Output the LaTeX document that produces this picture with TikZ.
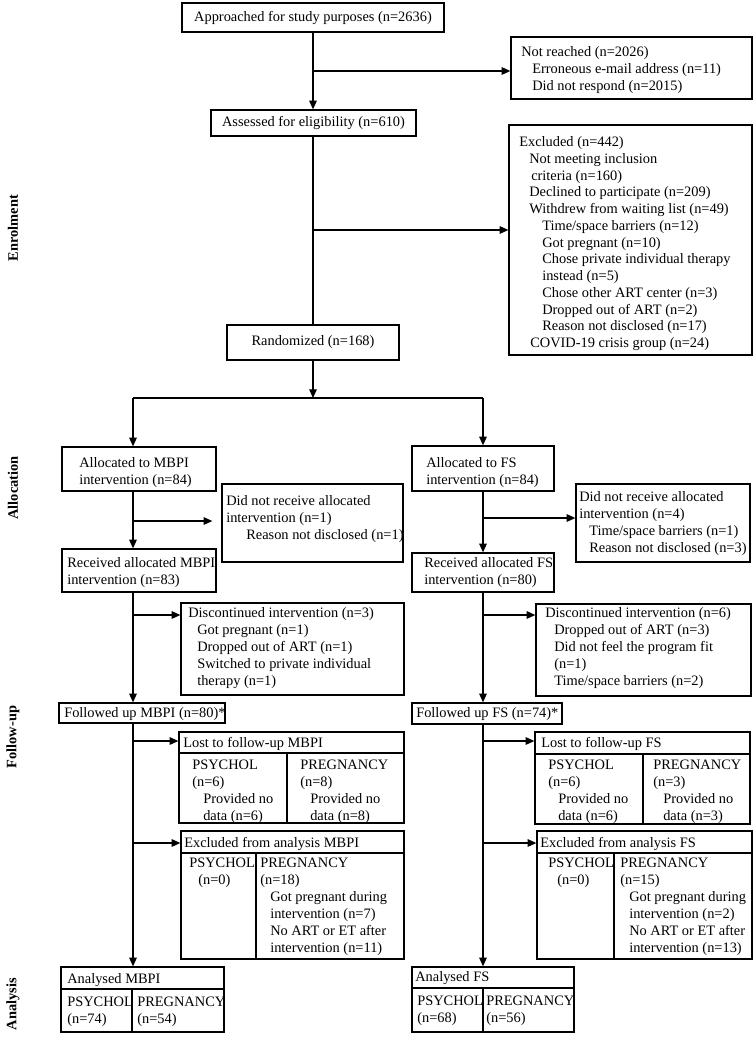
\documentclass[tikz,border=0pt]{standalone}
\usepackage{fontspec}
\setmainfont{Liberation Serif}
\usetikzlibrary{arrows.meta}
\newcommand\bx[6]{\node[box, minimum width={(#4-#2)*0.75pt}, minimum height={(#5-#3)*0.75pt}] (#1) at ({(#2+#4)/2},{(#3+#5)/2}) {#6};}
\newcommand\tx[4]{\node[txt] (#1) at (#2,{#3-7.4}) {\strut #4};}
\newcommand\myind[1]{\hspace*{#1pt}}
\begin{document}
\begin{tikzpicture}[x=0.75pt,y=-0.75pt,
 fnt/.style={font=\fontsize{10.8}{12.75}\selectfont},
 box/.style={draw, line width=0.95pt, inner sep=0pt, fnt},
 txt/.style={anchor=north west, inner sep=0pt, align=left, fnt},
 arr/.style={line width=0.95pt, -{Triangle[length=6.5pt,width=5.6pt]}},
 ln/.style={line width=0.95pt},
 lab/.style={rotate=90, inner sep=0pt, font=\fontsize{10.8}{12.75}\selectfont\bfseries}]
\useasboundingbox (0,0) rectangle (755,1037);

% boxes
\bx{appr}{182}{3}{444}{32}{Approached for study purposes (n=2636)}
\bx{notr}{511}{37}{752}{99}{}
\bx{assess}{211}{110}{416}{136}{Assessed for eligibility (n=610)}
\bx{excl}{509}{125}{752}{355}{}
\bx{rand}{227}{325}{399}{360}{Randomized (n=168)}
\bx{allocM}{62}{447}{216}{491}{}
\bx{allocF}{412}{446}{554}{491}{}
\bx{dnrM}{222}{484}{403}{562}{}
\bx{dnrF}{576}{484}{750}{562}{}
\bx{recM}{62}{549}{216}{592}{}
\bx{recF}{412}{553}{554}{592}{}
\bx{discM}{181}{603}{404}{695}{}
\bx{discF}{536}{604}{751}{696}{}
\bx{folM}{59}{703}{225}{723}{}
\bx{folF}{412}{703}{562}{724}{}
\bx{lostM}{179}{732}{404}{823}{}
\bx{lostF}{535}{732}{750}{824}{}
\bx{exclM}{181}{831}{404}{959}{}
\bx{exclF}{537}{831}{752}{959}{}
\bx{anM}{61}{967}{224}{1032}{}
\bx{anF}{412}{967}{574}{1032}{}

% table rules
\draw[ln] (lostM.west |- 0,753) -- (lostM.east |- 0,753);
\draw[ln] (287,753) -- (lostM.south -| 287,0);
\draw[ln] (lostF.west |- 0,754) -- (lostF.east |- 0,754);
\draw[ln] (643,754) -- (lostF.south -| 643,0);
\draw[ln] (exclM.west |- 0,853) -- (exclM.east |- 0,853);
\draw[ln] (256,853) -- (exclM.south -| 256,0);
\draw[ln] (exclF.west |- 0,853) -- (exclF.east |- 0,853);
\draw[ln] (614,853) -- (exclF.south -| 614,0);
\draw[ln] (anM.west |- 0,989) -- (anM.east |- 0,989);
\draw[ln] (132,989) -- (anM.south -| 132,0);
\draw[ln] (anF.west |- 0,988) -- (anF.east |- 0,988);
\draw[ln] (483,988) -- (anF.south -| 483,0);

% connectors
\coordinate (c0) at (313,0);
\coordinate (mc) at (133,0);
\coordinate (fc) at (483,0);
\draw[arr] (c0 |- appr.south) -- (c0 |- assess.north);
\coordinate (b1) at (313,71);
\draw[arr] (b1) -- (b1 -| notr.west);
\draw[ln] (c0 |- assess.south) -- (c0 |- rand.north);
\coordinate (b2) at (313,230);
\draw[arr] (b2) -- (b2 -| excl.west);
\coordinate (split) at (313,398);
\draw[arr] (c0 |- rand.south) -- (split);
\draw[ln] (mc |- split) -- (fc |- split);
\draw[arr] (mc |- split) -- (mc |- allocM.north);
\draw[arr] (fc |- split) -- (fc |- allocF.north);

\draw[arr] (mc |- allocM.south) -- (mc |- recM.north);
\coordinate (b3) at (133,521);
\draw[arr, shorten >=6.75pt] (b3) -- (b3 -| dnrM.west);
\draw[arr] (mc |- recM.south) -- (mc |- folM.north);
\coordinate (b4) at (133,615);
\draw[arr] (b4) -- (b4 -| discM.west);
\draw[arr] (mc |- folM.south) -- (mc |- anM.north);
\coordinate (b5) at (133,741);
\draw[arr] (b5) -- (b5 -| lostM.west);
\coordinate (b6) at (133,843);
\draw[arr] (b6) -- (b6 -| exclM.west);

\draw[arr] (fc |- allocF.south) -- (fc |- recF.north);
\coordinate (b7) at (483,518);
\draw[arr] (b7) -- (b7 -| dnrF.west);
\draw[arr] (fc |- recF.south) -- (fc |- folF.north);
\coordinate (b8) at (483,615);
\draw[arr] (b8) -- (b8 -| discF.west);
\draw[arr] (fc |- folF.south) -- (fc |- anF.north);
\coordinate (b9) at (483,741);
\draw[arr] (b9) -- (b9 -| lostF.west);
\coordinate (b10) at (483,843);
\draw[arr] (b10) -- (b10 -| exclF.west);

% texts
\tx{tNotr}{521}{52}{Not reached (n=2026)\\\myind{8.25}Erroneous e-mail address (n=11)\\\myind{8.25}Did not respond (n=2015)}
\node[txt, font=\fontsize{10.8}{12.56}\selectfont] (tExcl) at (519,{142-7.4}) {\strut Excluded (n=442)\\
\myind{7.5}Not meeting inclusion\\
\myind{9}criteria (n=160)\\
\myind{7.5}Declined to participate (n=209)\\
\myind{7.5}Withdrew from waiting list (n=49)\\
\myind{17.25}Time/space barriers (n=12)\\
\myind{17.25}Got pregnant (n=10)\\
\myind{17.25}Chose private individual therapy\\
\myind{17.25}instead (n=5)\\
\myind{17.25}Chose other ART center (n=3)\\
\myind{17.25}Dropped out of ART (n=2)\\
\myind{17.25}Reason not disclosed (n=17)\\
\myind{8.25}COVID-19 crisis group (n=24)};
\tx{tAllocM}{79}{463}{Allocated to MBPI\\intervention (n=84)}
\tx{tAllocF}{426}{463}{Allocated to FS\\intervention (n=84)}
\tx{tDnrM}{226}{501}{Did not receive allocated\\intervention (n=1)\\\myind{15}Reason not disclosed (n=1)}
\tx{tDnrF}{579}{497}{Did not receive allocated\\intervention (n=4)\\\myind{7.5}Time/space barriers (n=1)\\\myind{7.5}Reason not disclosed (n=3)}
\tx{tRecM}{67}{563}{Received allocated MBPI\\intervention (n=83)}
\tx{tRecF}{424}{563}{Received allocated FS\\intervention (n=80)}
\tx{tDiscM}{188}{613}{Discontinued intervention (n=3)\\\myind{6.75}Got pregnant (n=1)\\\myind{6.75}Dropped out of ART (n=1)\\\myind{6.75}Switched to private individual\\\myind{6.75}therapy (n=1)}
\tx{tDiscF}{545}{613}{Discontinued intervention (n=6)\\\myind{6.75}Dropped out of ART (n=3)\\\myind{6.75}Did not feel the program fit\\\myind{6.75}(n=1)\\\myind{6.75}Time/space barriers (n=2)}
\tx{tFolM}{64}{713}{Followed up MBPI (n=80)*}
\tx{tFolF}{416}{713}{Followed up FS (n=74)*}
\tx{tLostMh}{183}{743}{Lost to follow-up MBPI}
\tx{tLostMa}{192}{765}{PSYCHOL\\(n=6)\\\myind{8.25}Provided no\\\myind{8.25}data (n=6)}
\tx{tLostMb}{300}{765}{PREGNANCY\\(n=8)\\\myind{7.5}Provided no\\\myind{7.5}data (n=8)}
\tx{tLostFh}{541}{743}{Lost to follow-up FS}
\tx{tLostFa}{548}{765}{PSYCHOL\\(n=6)\\\myind{7.5}Provided no\\\myind{7.5}data (n=6)}
\tx{tLostFb}{653}{765}{PREGNANCY\\(n=3)\\\myind{7.5}Provided no\\\myind{7.5}data (n=3)}
\tx{tExclMh}{184}{843}{Excluded from analysis MBPI}
\tx{tExclMa}{189}{863}{PSYCHOL\\\myind{6.75}(n=0)}
\tx{tExclMb}{260}{863}{PREGNANCY\\(n=18)\\\myind{7.5}Got pregnant during\\\myind{7.5}intervention (n=7)\\\myind{7.5}No ART or ET after\\\myind{7.5}intervention (n=11)}
\tx{tExclFh}{540}{843}{Excluded from analysis FS}
\tx{tExclFa}{548}{863}{PSYCHOL\\\myind{6.75}(n=0)}
\tx{tExclFb}{620}{863}{PREGNANCY\\(n=15)\\\myind{6.75}Got pregnant during\\\myind{6.75}intervention (n=2)\\\myind{6.75}No ART or ET after\\\myind{6.75}intervention (n=13)}
\tx{tAnMh}{67}{979}{Analysed MBPI}
\tx{tAnMa}{67}{1002}{PSYCHOL\\(n=74)}
\tx{tAnMb}{137}{1002}{PREGNANCY\\(n=54)}
\tx{tAnFh}{415}{977}{Analysed FS}
\tx{tAnFa}{417}{1001}{PSYCHOL\\(n=68)}
\tx{tAnFb}{486}{1001}{PREGNANCY\\(n=56)}

% phase labels
\node[lab] (lEnr) at (13,228) {Enrolment};
\node[lab] (lAll) at (13,488) {Allocation};
\node[lab] (lFol) at (13,737) {Follow-up};
\node[lab] (lAna) at (13,1004) {Analysis};
\end{tikzpicture}
\end{document}
